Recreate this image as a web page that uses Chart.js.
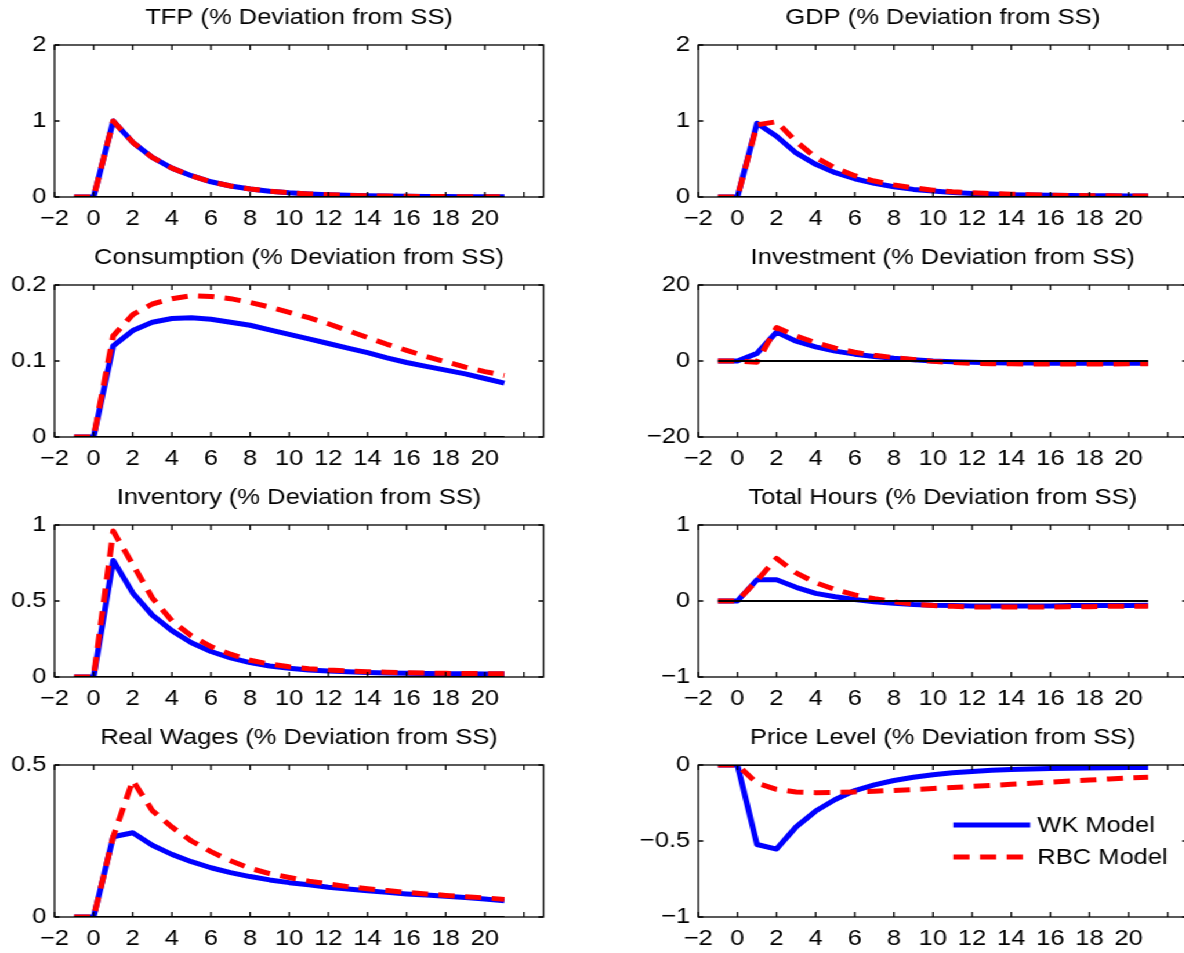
<!DOCTYPE html>
<html>
<head>
<meta charset="utf-8">
<script src="https://cdn.jsdelivr.net/npm/chart.js@4.4.1/dist/chart.umd.min.js"></script>
<style>
  html, body { margin: 0; padding: 0; background: #fff; overflow: hidden; }
  #fig { position: absolute; left: 0; top: 0; height: 953px; overflow: hidden; transform-origin: 0 0; }
  #fig canvas { position: absolute; }
</style>
</head>
<body>
<div id="fig"></div>
<script>
// quarters after the shock
const periods = [-1, 0, 1, 2, 3, 4, 5, 6, 7, 8, 9, 10, 11, 12, 13, 14, 15, 16, 17, 18, 19, 20, 21];
const seriesNames = ['WK Model', 'RBC Model'];

const tfpWK  = [0, 0, 1.00, 0.72, 0.52, 0.38, 0.28, 0.20, 0.145, 0.105, 0.077, 0.056, 0.041, 0.030, 0.022, 0.016, 0.012, 0.009, 0.007, 0.005, 0.004, 0.003, 0.002];
const tfpRBC = [0, 0, 1.00, 0.72, 0.52, 0.38, 0.28, 0.20, 0.145, 0.105, 0.077, 0.056, 0.041, 0.030, 0.022, 0.016, 0.012, 0.009, 0.007, 0.005, 0.004, 0.003, 0.002];
const gdpWK  = [0, 0, 0.97, 0.80, 0.58, 0.43, 0.32, 0.24, 0.18, 0.135, 0.10, 0.078, 0.060, 0.047, 0.038, 0.031, 0.026, 0.022, 0.019, 0.017, 0.015, 0.013, 0.012];
const gdpRBC = [0, 0, 0.95, 0.99, 0.73, 0.52, 0.38, 0.28, 0.21, 0.16, 0.12, 0.09, 0.07, 0.055, 0.045, 0.037, 0.030, 0.025, 0.021, 0.018, 0.016, 0.014, 0.012];
const consWK  = [0, 0, 0.120, 0.140, 0.151, 0.156, 0.157, 0.155, 0.151, 0.147, 0.141, 0.135, 0.129, 0.123, 0.117, 0.111, 0.104, 0.098, 0.093, 0.088, 0.083, 0.077, 0.071];
const consRBC = [0, 0, 0.133, 0.161, 0.175, 0.182, 0.186, 0.185, 0.182, 0.177, 0.171, 0.164, 0.157, 0.149, 0.140, 0.131, 0.122, 0.114, 0.106, 0.099, 0.092, 0.086, 0.081];
const invWK  = [0, 0, 2.0, 7.6, 5.2, 3.7, 2.6, 1.8, 1.2, 0.7, 0.3, 0.0, -0.2, -0.35, -0.45, -0.5, -0.55, -0.6, -0.6, -0.6, -0.6, -0.6, -0.6];
const invRBC = [0, 0, -0.3, 8.8, 6.6, 4.8, 3.4, 2.3, 1.5, 0.9, 0.4, -0.1, -0.4, -0.6, -0.7, -0.75, -0.8, -0.8, -0.8, -0.8, -0.8, -0.75, -0.7];
const stockWK  = [0, 0, 0.767, 0.553, 0.407, 0.305, 0.225, 0.168, 0.126, 0.095, 0.072, 0.057, 0.046, 0.039, 0.034, 0.030, 0.027, 0.025, 0.023, 0.022, 0.021, 0.020, 0.019];
const stockRBC = [0, 0, 0.96, 0.74, 0.52, 0.37, 0.27, 0.20, 0.15, 0.11, 0.085, 0.067, 0.055, 0.046, 0.040, 0.035, 0.031, 0.028, 0.026, 0.024, 0.023, 0.022, 0.021];
const hoursWK  = [0, 0, 0.28, 0.28, 0.18, 0.10, 0.055, 0.02, -0.01, -0.03, -0.045, -0.055, -0.06, -0.065, -0.065, -0.065, -0.065, -0.065, -0.06, -0.06, -0.06, -0.06, -0.055];
const hoursRBC = [0, 0, 0.27, 0.56, 0.37, 0.24, 0.15, 0.08, 0.03, -0.01, -0.04, -0.06, -0.07, -0.08, -0.08, -0.08, -0.08, -0.08, -0.075, -0.075, -0.07, -0.07, -0.07];
const wageWK  = [0, 0, 0.264, 0.277, 0.236, 0.206, 0.182, 0.162, 0.146, 0.133, 0.122, 0.113, 0.106, 0.098, 0.092, 0.086, 0.081, 0.076, 0.072, 0.068, 0.064, 0.059, 0.053];
const wageRBC = [0, 0, 0.264, 0.449, 0.35, 0.296, 0.25, 0.215, 0.185, 0.16, 0.143, 0.13, 0.118, 0.109, 0.10, 0.093, 0.087, 0.081, 0.076, 0.071, 0.067, 0.063, 0.058];
const priceWK  = [0, 0, -0.523, -0.553, -0.407, -0.303, -0.227, -0.168, -0.131, -0.102, -0.081, -0.064, -0.051, -0.042, -0.035, -0.030, -0.026, -0.023, -0.021, -0.019, -0.018, -0.017, -0.016];
const priceRBC = [0, 0, -0.12, -0.16, -0.178, -0.182, -0.18, -0.177, -0.172, -0.167, -0.161, -0.155, -0.148, -0.141, -0.134, -0.127, -0.12, -0.113, -0.106, -0.099, -0.092, -0.085, -0.08];
const zeroLine = [0, 0, 0, 0, 0, 0, 0, 0, 0, 0, 0, 0, 0, 0, 0, 0, 0, 0, 0, 0, 0, 0, 0];

const titles = [
  'TFP (% Deviation from SS)', 'GDP (% Deviation from SS)',
  'Consumption (% Deviation from SS)', 'Investment (% Deviation from SS)',
  'Inventory (% Deviation from SS)', 'Total Hours (% Deviation from SS)',
  'Real Wages (% Deviation from SS)', 'Price Level (% Deviation from SS)'
];
const wkSeries  = [tfpWK, gdpWK, consWK, invWK, stockWK, hoursWK, wageWK, priceWK];
const rbcSeries = [tfpRBC, gdpRBC, consRBC, invRBC, stockRBC, hoursRBC, wageRBC, priceRBC];
const yTicks = [[0, 1, 2], [0, 1, 2], [0, 0.1, 0.2], [-20, 0, 20], [0, 0.5, 1], [-1, 0, 1], [0, 0.5], [-1, -0.5, 0]];
const xTicks = [-2, 0, 2, 4, 6, 8, 10, 12, 14, 16, 18, 20, 22];
const xTickLabels = ['\u22122', '0', '2', '4', '6', '8', '10', '12', '14', '16', '18', '20', ''];

const FONT = '"Liberation Sans", Arial, Helvetica, sans-serif';
const FS = 22;
Chart.defaults.font.family = FONT;
Chart.defaults.font.size = FS;
Chart.defaults.color = '#000';

// the original figure is a little wider than tall; draw narrow and widen with css
const SX = 1.16;
const fig = document.getElementById('fig');
fig.style.width = (1184 / SX) + 'px';
fig.style.transform = 'scaleX(' + SX + ')';

const fmt = v => String(v).replace('-', '\u2212');

// box around the axes with inward ticks on all four sides
const boxPlugin = {
  id: 'matlabBox',
  afterDatasetsDraw(chart) {
    const { ctx, chartArea: a, scales } = chart;
    const tx = 5 / SX;
    ctx.save();
    ctx.strokeStyle = '#000';
    ctx.lineWidth = 1.3;
    ctx.strokeRect(a.left, a.top, a.right - a.left, a.bottom - a.top);
    ctx.beginPath();
    scales.x.ticks.forEach(t => {
      const px = scales.x.getPixelForValue(t.value);
      ctx.moveTo(px, a.bottom); ctx.lineTo(px, a.bottom - 5);
      ctx.moveTo(px, a.top); ctx.lineTo(px, a.top + 5);
    });
    scales.y.ticks.forEach(t => {
      const py = scales.y.getPixelForValue(t.value);
      ctx.moveTo(a.left, py); ctx.lineTo(a.left + tx, py);
      ctx.moveTo(a.right, py); ctx.lineTo(a.right - tx, py);
    });
    ctx.stroke();
    ctx.restore();
  }
};

// legend drawn inside the last panel
const legendPlugin = {
  id: 'insideLegend',
  afterDraw(chart, args, opts) {
    if (!opts.show) return;
    const { ctx, chartArea: a } = chart;
    const sets = [chart.data.datasets[2], chart.data.datasets[1]];
    ctx.save();
    sets.forEach((ds, k) => {
      const y = a.top + 60 + k * 32;
      ctx.strokeStyle = ds.borderColor;
      ctx.lineWidth = ds.borderWidth;
      ctx.setLineDash(ds.borderDash || []);
      ctx.beginPath();
      ctx.moveTo(a.left + 255 / SX, y);
      ctx.lineTo(a.left + 332 / SX, y);
      ctx.stroke();
      ctx.setLineDash([]);
      ctx.fillStyle = '#000';
      ctx.font = FS + 'px ' + FONT;
      ctx.textBaseline = 'middle';
      ctx.fillText(ds.label, a.left + 339 / SX, y + 1);
    });
    ctx.restore();
  }
};

const AX_W = 489 / SX, AX_H = 152, MARGIN = 55, TOP = 45, BOTTOM = 30;
const axLeft = [55 / SX, 698.7 / SX];

titles.forEach((title, i) => {
  const col = i % 2, row = Math.floor(i / 2);
  const canvas = document.createElement('canvas');
  canvas.width = Math.round(AX_W + 2 * MARGIN);
  canvas.height = TOP + AX_H + BOTTOM;
  canvas.style.left = (axLeft[col] - MARGIN) + 'px';
  canvas.style.top = (row * 240) + 'px';
  fig.appendChild(canvas);
  const padRight = canvas.width - MARGIN - AX_W;

  const yt = yTicks[i];
  new Chart(canvas, {
    type: 'line',
    data: {
      datasets: [
        { label: 'zero', data: periods.map((p, j) => ({ x: p, y: zeroLine[j] })),
          borderColor: '#000', borderWidth: 2 },
        { label: seriesNames[1], data: periods.map((p, j) => ({ x: p, y: rbcSeries[i][j] })),
          borderColor: '#ff0000', borderWidth: 5, borderDash: [14, 9] },
        { label: seriesNames[0], data: periods.map((p, j) => ({ x: p, y: wkSeries[i][j] })),
          borderColor: '#0000ff', borderWidth: 5 }
      ]
    },
    options: {
      responsive: false,
      animation: false,
      clip: 0,
      elements: { point: { radius: 0 }, line: { tension: 0, borderCapStyle: 'butt', borderJoinStyle: 'round' } },
      layout: { padding: { left: 0, right: padRight, top: 0, bottom: 0 } },
      plugins: {
        legend: { display: false },
        tooltip: { enabled: false },
        // not full width, so the title sits centred over the axes
        title: { display: true, fullSize: false, text: title, color: '#000',
                 font: { size: FS, weight: 'normal' }, padding: { top: 5, bottom: TOP - 5 - FS * 1.2 } },
        insideLegend: { show: i === 7 }
      },
      scales: {
        x: {
          type: 'linear', min: -2, max: 23,
          grid: { display: false, drawTicks: false }, border: { display: false },
          afterBuildTicks: s => { s.ticks = xTicks.map(v => ({ value: v })); },
          afterFit: s => { s.height = BOTTOM; },
          ticks: { padding: 9, maxRotation: 0, autoSkip: false, callback: (v, k) => xTickLabels[k] }
        },
        y: {
          type: 'linear', min: yt[0], max: yt[yt.length - 1],
          grid: { display: false, drawTicks: false }, border: { display: false },
          afterBuildTicks: s => { s.ticks = yt.map(v => ({ value: v })); },
          afterFit: s => { s.width = MARGIN; },
          ticks: { padding: 7, autoSkip: false, callback: v => fmt(v) }
        }
      }
    },
    plugins: [boxPlugin, legendPlugin]
  });
});
</script>
</body>
</html>
